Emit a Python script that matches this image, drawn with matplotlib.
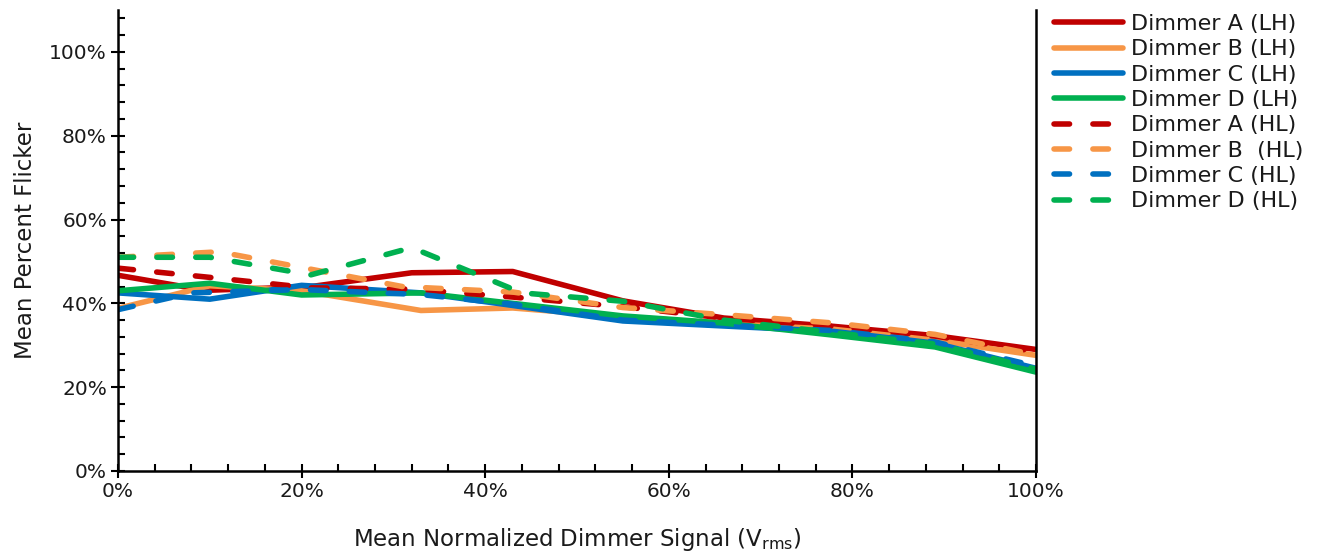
import matplotlib
matplotlib.use('Agg')

import matplotlib.pyplot as plt
from matplotlib.ticker import MultipleLocator, PercentFormatter

# mean normalized dimmer signal (fraction) and mean percent flicker per dimmer
x_a_lh = [0, 0.095, 0.21, 0.32, 0.43, 0.55, 0.66, 0.78, 0.89, 1.0]
y_a_lh = [0.467, 0.431, 0.440, 0.473, 0.476, 0.406, 0.365, 0.345, 0.323, 0.290]

x_b_lh = [0, 0.10, 0.20, 0.33, 0.43, 0.55, 0.66, 0.78, 0.89, 1.0]
y_b_lh = [0.388, 0.442, 0.430, 0.383, 0.389, 0.368, 0.352, 0.338, 0.312, 0.276]

x_c_lh = [0, 0.10, 0.20, 0.33, 0.43, 0.55, 0.66, 0.78, 0.89, 1.0]
y_c_lh = [0.425, 0.410, 0.443, 0.425, 0.395, 0.358, 0.346, 0.333, 0.305, 0.245]

x_d_lh = [0, 0.10, 0.20, 0.33, 0.43, 0.55, 0.66, 0.78, 0.89, 1.0]
y_d_lh = [0.430, 0.448, 0.420, 0.425, 0.400, 0.370, 0.353, 0.324, 0.296, 0.236]

x_a_hl = [0, 0.10, 0.21, 0.32, 0.43, 0.55, 0.66, 0.78, 0.89, 1.0]
y_a_hl = [0.484, 0.462, 0.437, 0.434, 0.415, 0.392, 0.365, 0.345, 0.322, 0.285]

x_b_hl = [0, 0.11, 0.31, 0.43, 0.55, 0.66, 0.78, 0.89, 1.0]
y_b_hl = [0.510, 0.523, 0.440, 0.427, 0.390, 0.373, 0.353, 0.326, 0.277]

x_c_hl = [0, 0.08, 0.20, 0.33, 0.43, 0.55, 0.66, 0.78, 0.89, 1.0]
y_c_hl = [0.385, 0.425, 0.433, 0.421, 0.398, 0.360, 0.348, 0.335, 0.308, 0.250]

x_d_hl = [0, 0.10, 0.21, 0.32, 0.44, 0.55, 0.66, 0.78, 0.89, 1.0]
y_d_hl = [0.510, 0.510, 0.468, 0.533, 0.425, 0.405, 0.360, 0.330, 0.303, 0.243]

RED = '#c00000'
ORANGE = '#f79646'
BLUE = '#0070c0'
GREEN = '#00b050'

series = [
    ('Dimmer A (LH)', x_a_lh, y_a_lh, RED, '-'),
    ('Dimmer B (LH)', x_b_lh, y_b_lh, ORANGE, '-'),
    ('Dimmer C (LH)', x_c_lh, y_c_lh, BLUE, '-'),
    ('Dimmer D (LH)', x_d_lh, y_d_lh, GREEN, '-'),
    ('Dimmer A (HL)', x_a_hl, y_a_hl, RED, '--'),
    ('Dimmer B  (HL)', x_b_hl, y_b_hl, ORANGE, '--'),
    ('Dimmer C (HL)', x_c_hl, y_c_hl, BLUE, '--'),
    ('Dimmer D (HL)', x_d_hl, y_d_hl, GREEN, '--'),
]

plt.rcParams['font.family'] = ['DejaVu Sans']
TEXT = '#1a1a1a'

fig = plt.figure(figsize=(13.3, 5.57), dpi=100)
ax = fig.add_axes([118 / 1330, 86 / 557, 918 / 1330, 461 / 557])

for label, xs, ys, color, ls in series:
    if ls == '-':
        ax.plot(xs, ys, color=color, lw=4.0, label=label,
                solid_capstyle='round', solid_joinstyle='round')
    else:
        ax.plot(xs, ys, color=color, lw=4.0, label=label,
                dashes=(2.8, 4.2), dash_capstyle='round')

ax.set_xlim(0, 1)
ax.set_ylim(0, 1.1)
ax.xaxis.set_major_locator(MultipleLocator(0.2))
ax.xaxis.set_minor_locator(MultipleLocator(0.04))
ax.yaxis.set_minor_locator(MultipleLocator(0.04))
ax.xaxis.set_major_formatter(PercentFormatter(1.0, decimals=0))
ax.yaxis.set_major_formatter(PercentFormatter(1.0, decimals=0))
ax.set_yticks([0, 0.2, 0.4, 0.6, 0.8, 1.0])

ax.tick_params(which='major', direction='inout', length=10, width=1.5,
               labelsize=14.5, colors='black', labelcolor=TEXT, pad=3)
ax.tick_params(which='minor', direction='in', length=5, width=1.5)

for side in ['left', 'bottom', 'right']:
    ax.spines[side].set_linewidth(1.8)
    ax.spines[side].set_color('black')
ax.spines['top'].set_visible(False)

ax.set_xlabel('Mean Normalized Dimmer Signal (V$_{\\mathregular{rms}}$)',
              fontsize=16.5, labelpad=18, color=TEXT)
ax.set_ylabel('Mean Percent Flicker', fontsize=16.5, labelpad=9, color=TEXT)

leg = ax.legend(loc='upper left', bbox_to_anchor=(1.005, 1.02), frameon=False,
                fontsize=16, handlelength=3.1, handletextpad=0.35,
                labelspacing=0.24, borderaxespad=0.2)
for t in leg.get_texts():
    t.set_color(TEXT)

fig.savefig('out.png', dpi=100)
